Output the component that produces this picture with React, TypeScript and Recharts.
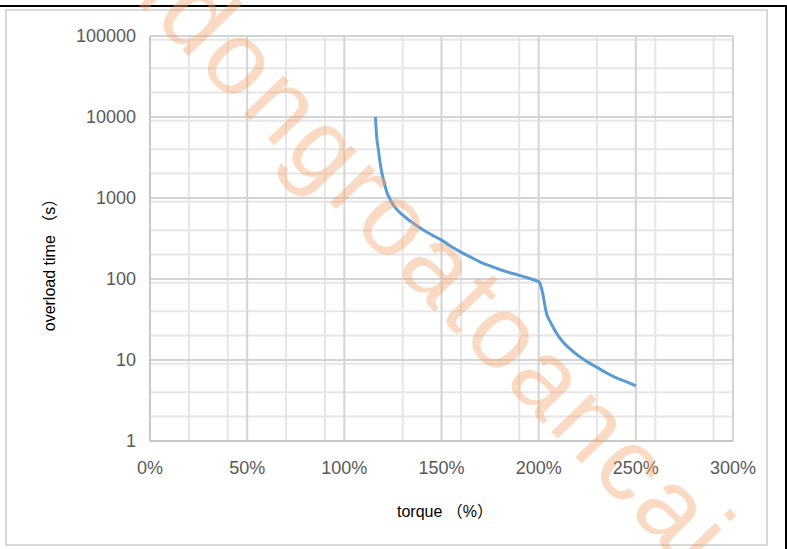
import React from 'react';
import { LineChart, Line, XAxis, YAxis, CartesianGrid } from 'recharts';

const torque = [116, 116.7, 117.5, 118, 119.2, 120.5, 121.8, 123.5, 125.2, 127.5, 130, 132.5, 135.5, 140, 145, 150, 155, 160, 165, 170, 175, 180, 185, 190, 195, 199, 200, 201, 202, 203, 204, 206, 208, 210, 213, 216, 220, 225, 230, 235, 240, 245, 250];
const overloadTime = [10000, 5500, 4000, 3200, 2100, 1550, 1197, 966, 820, 700, 617, 550, 488, 412, 351, 302, 252, 215, 186, 162, 145, 131, 120, 111, 102, 95, 93, 84, 68, 50, 38, 29.5, 24, 20, 16.2, 13.8, 11.5, 9.5, 8.1, 6.9, 6.0, 5.4, 4.8];

const xTicks = [0, 50, 100, 150, 200, 250, 300];
const yTicks = [1, 10, 100, 1000, 10000, 100000];
const xMinor = [10, 20, 30, 40, 60, 70, 80, 90, 110, 120, 130, 140, 160, 170, 180, 190, 210, 220, 230, 240, 260, 270, 280, 290];
const yMinor: number[] = [];
[1, 10, 100, 1000, 10000].forEach((d) => {
  [2, 3, 4, 5, 6, 7, 8, 9].forEach((m) => yMinor.push(d * m));
});

const data = torque.map((t, i) => ({ torque: t, time: overloadTime[i] }));

const WIDTH = 787;
const HEIGHT = 549;
const FONT = '"Liberation Sans", Arial, "Noto Sans CJK SC", sans-serif';

export default function App() {
  return (
    <div style={{ position: 'absolute', left: 0, top: 0, width: WIDTH, height: HEIGHT, background: '#fff' }}>
      <LineChart
        width={WIDTH}
        height={HEIGHT}
        data={data}
        margin={{ top: 36, right: 54, bottom: 78, left: 70 }}
      >
        <CartesianGrid
          stroke="#e6e6e6"
          strokeWidth={2}
          horizontalValues={yMinor}
          verticalValues={xMinor}
        />
        <CartesianGrid
          stroke="#d4d4d4"
          strokeWidth={2}
          horizontalValues={yTicks}
          verticalValues={xTicks}
        />
        <XAxis
          dataKey="torque"
          type="number"
          domain={[0, 300]}
          ticks={xTicks}
          tickFormatter={(v: number) => `${v}%`}
          tickLine={false}
          tickSize={0}
          tickMargin={20}
          height={30}
          axisLine={{ stroke: '#c8c8c8', strokeWidth: 2 }}
          tick={{ fill: '#595959', fontSize: 18, fontFamily: FONT }}
          allowDataOverflow
        />
        <YAxis
          dataKey="time"
          scale="log"
          domain={[1, 100000]}
          ticks={yTicks}
          width={80}
          tickLine={false}
          tickSize={0}
          tickMargin={14}
          axisLine={{ stroke: '#c8c8c8', strokeWidth: 2 }}
          tick={{ fill: '#595959', fontSize: 18, fontFamily: FONT }}
          allowDataOverflow
        />
        <Line
          type="monotone"
          dataKey="time"
          stroke="#5b9bd5"
          strokeWidth={3}
          dot={false}
          isAnimationActive={false}
        />
      </LineChart>
      <svg
        width={WIDTH}
        height={HEIGHT}
        style={{ position: 'absolute', left: 0, top: 0, pointerEvents: 'none' }}
      >
        <rect x={6} y={10} width={761} height={535} fill="none" stroke="#d9d9d9" strokeWidth={2} />
        <line x1={0} y1={6} x2={787} y2={6} stroke="#000" strokeWidth={2} />
        <line x1={786} y1={6} x2={786} y2={549} stroke="#000" strokeWidth={2} />
        <text
          x={445}
          y={517}
          textAnchor="middle"
          fontSize={16}
          fontFamily={FONT}
          fill="#000"
        >
          torque （%）
        </text>
        <text
          x={0}
          y={0}
          transform="translate(55 261) rotate(-90)"
          textAnchor="middle"
          fontSize={16}
          fontFamily={FONT}
          fill="#000"
        >
          overload time （s）
        </text>
        <text
          x={0}
          y={0}
          transform="translate(110 -25) rotate(46)"
          fontSize={104}
          letterSpacing={4}
          fontFamily={FONT}
          fill="#f4a26b"
          fillOpacity={0.4}
        >
          udongroatoancai
        </text>
      </svg>
    </div>
  );
}
